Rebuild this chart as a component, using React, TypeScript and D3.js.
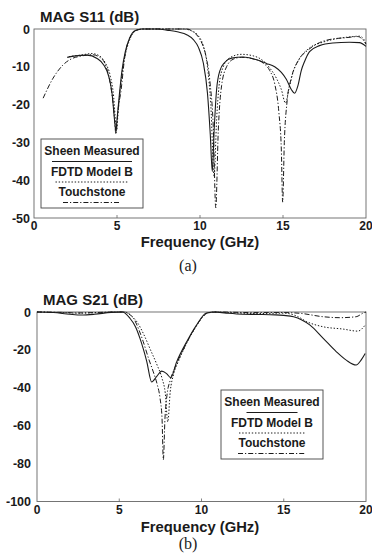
import React, { useEffect, useRef } from "react";
import * as d3 from "d3";

type Pt = [number, number];

const freqTicks = [0, 5, 10, 15, 20];
const s11Ticks = [0, -10, -20, -30, -40, -50];
const s21Ticks = [0, -20, -40, -60, -80, -100];
const legendLabels = ["Sheen Measured", "FDTD Model B", "Touchstone"];

// MAG S11 (dB) vs frequency (GHz)
const s11Measured: Pt[] = [
  [2.0, -7.5], [2.5, -7.1], [3.2, -6.9], [3.8, -7.8], [4.2, -9.5], [4.5, -12.5],
  [4.7, -17], [4.85, -24], [4.93, -27], [5.0, -24], [5.15, -17], [5.3, -11],
  [5.5, -6], [5.75, -2.5], [6.1, -0.4], [6.5, 0], [7.5, 0], [8.0, -0.3],
  [8.7, -0.8], [9.2, -1.5], [9.6, -2.8], [9.9, -4.8], [10.2, -9], [10.45, -17],
  [10.62, -28], [10.74, -37.7], [10.85, -27], [11.0, -16], [11.2, -11], [11.5, -8.8],
  [11.9, -7.7], [12.6, -7.4], [13.3, -8], [14.0, -9.1], [14.5, -10], [14.9, -11.5],
  [15.2, -13.3], [15.5, -16], [15.7, -17], [15.9, -15], [16.1, -11], [16.3, -8.6],
  [16.6, -6], [17.2, -4.4], [18.0, -3.7], [19.0, -3.5], [19.6, -3.6], [20.0, -4.6],
];
const s11Fdtd: Pt[] = [
  [2.1, -7.3], [2.8, -6.9], [3.5, -6.5], [3.9, -7], [4.3, -9], [4.6, -12.5],
  [4.8, -18], [4.92, -25], [4.97, -27], [5.05, -23], [5.2, -16], [5.4, -9],
  [5.6, -5], [5.85, -2], [6.2, -0.3], [6.6, 0], [9.0, 0], [9.5, -0.5],
  [9.9, -1.8], [10.2, -4.5], [10.45, -10], [10.65, -20], [10.85, -39], [11.0, -24],
  [11.15, -15], [11.4, -10], [11.8, -7.6], [12.5, -6.7], [13.2, -7.1], [13.8, -8.4],
  [14.2, -10.3], [14.6, -13], [14.9, -16], [15.15, -19.6], [15.35, -16], [15.6, -11.5],
  [16.0, -7.8], [16.6, -5], [17.4, -3.5], [18.2, -2.6], [19.0, -2.1], [19.6, -1.9],
  [19.85, -2.6], [20.0, -4],
];
const s11Touchstone: Pt[] = [
  [0.55, -18.3], [1.15, -13], [1.75, -9.5], [2.3, -7.8], [2.8, -7.2], [3.5, -6.8],
  [4.0, -7.6], [4.35, -10], [4.6, -14.5], [4.8, -21], [4.94, -27.8], [5.05, -22],
  [5.25, -16], [5.45, -8], [5.75, -2.6], [6.2, -0.3], [6.6, 0], [9.2, 0],
  [9.6, -0.8], [10.0, -2.8], [10.35, -7], [10.6, -14], [10.8, -26], [10.95, -47.3],
  [11.1, -27], [11.3, -15], [11.6, -10], [12.0, -8], [12.5, -7.5], [13.2, -7.9],
  [13.8, -9], [14.2, -11], [14.5, -14.5], [14.75, -22], [14.9, -32], [14.98, -45.8],
  [15.08, -30], [15.25, -19], [15.5, -13], [15.9, -8.5], [16.5, -5.6], [17.2, -3.6],
  [17.9, -2.7], [18.8, -2.3], [19.5, -2.0], [19.8, -2.8], [20.0, -4],
];

// MAG S21 (dB) vs frequency (GHz)
const s21Measured: Pt[] = [
  [0, 0], [1, -0.3], [2, -1.2], [2.7, -1.6], [3.5, -1.2], [4.5, -0.2],
  [5.2, 0], [5.65, -3.3], [6.0, -8], [6.26, -13.9], [6.67, -26], [6.97, -36.9],
  [7.28, -34], [7.58, -31.2], [7.88, -32.5], [8.13, -34.7], [8.49, -26.3], [9.1, -15.7],
  [9.7, -6.9], [10.3, -0.5], [10.8, 0], [11.5, -0.6], [12.5, -1.2], [13.5, -1.3],
  [14.5, -1.5], [15.0, -1.8], [15.6, -2.5], [16.1, -4.2], [16.6, -6.9], [17.4, -13.9],
  [18.2, -21], [18.8, -25.4], [19.4, -28], [19.7, -25.4], [19.95, -21.9],
];
const s21Fdtd: Pt[] = [
  [0, 0], [1.5, -0.3], [2.5, -0.6], [3.5, -0.4], [4.8, 0], [5.3, 0],
  [5.7, -1.8], [6.1, -5.5], [6.5, -12], [6.9, -20], [7.3, -28], [7.6, -35],
  [7.8, -43], [7.95, -58], [8.1, -42], [8.3, -33], [8.6, -26], [9.1, -16.5],
  [9.7, -7.2], [10.3, -0.8], [10.8, 0], [12, -0.5], [13.5, -0.8], [15, -0.6],
  [15.8, -2.2], [16.4, -5.1], [17.4, -7.8], [18.6, -9], [19.5, -10.1], [19.95, -6.9],
];
const s21Touchstone: Pt[] = [
  [0, 0], [1.5, -0.2], [2.5, -0.5], [3.5, -0.3], [4.8, 0], [5.3, 0],
  [5.86, -3.3], [6.2, -9.5], [6.46, -15.7], [6.8, -25], [7.07, -31.6], [7.3, -38],
  [7.48, -45.5], [7.6, -56], [7.68, -78], [7.78, -56], [7.9, -44], [8.1, -36],
  [8.4, -29], [8.8, -21.5], [9.3, -13], [9.9, -4.5], [10.4, -0.5], [11, 0],
  [13, -0.3], [15, -0.3], [16.0, -0.7], [17.4, -2.5], [18.4, -3], [19.4, -2.5],
  [19.8, -0.7], [20, 0],
];

const FONT = "'Liberation Sans', Arial, Helvetica, sans-serif";
const INK = "#1a1a1a";
const styles = [
  { dash: null, width: 1.1 },
  { dash: "1.4,1.8", width: 1 },
  { dash: "5,2,1.2,2", width: 1 },
];

type PanelOpts = {
  title: string;
  yTicks: number[];
  yMin: number;
  series: Pt[][];
  left: number;
  right: number;
  top: number;
  bottom: number;
  yLabelX: number;
  xLabelY: number;
  caption: string;
  captionY: number;
  legendX: number;
  legendY: number;
  legendLines: number[];
};

function drawPanel(svg: any, o: PanelOpts) {
  const g = svg.append("g");
  const x = d3.scaleLinear().domain([0, 20]).range([o.left, o.right]);
  const y = d3.scaleLinear().domain([o.yMin, 0]).range([o.bottom, o.top]);

  // frame
  g.append("rect")
    .attr("x", o.left)
    .attr("y", o.top)
    .attr("width", o.right - o.left)
    .attr("height", o.bottom - o.top)
    .attr("fill", "none")
    .attr("stroke", "#666")
    .attr("stroke-width", 0.9);

  // small inward ticks on the bottom edge
  g.selectAll(".xt")
    .data(freqTicks.slice(1, -1))
    .enter()
    .append("line")
    .attr("x1", (d) => x(d))
    .attr("x2", (d) => x(d))
    .attr("y1", o.bottom)
    .attr("y2", o.bottom - 3)
    .attr("stroke", "#666")
    .attr("stroke-width", 0.8);

  const line = d3
    .line<Pt>()
    .x((d) => x(d[0]))
    .y((d) => y(d[1]))
    .curve(d3.curveMonotoneX);

  o.series.forEach((s, i) => {
    g.append("path")
      .datum(s)
      .attr("fill", "none")
      .attr("stroke", INK)
      .attr("stroke-width", styles[i].width)
      .attr("stroke-dasharray", styles[i].dash)
      .attr("d", line);
  });

  // y tick labels
  g.selectAll(".yl")
    .data(o.yTicks)
    .enter()
    .append("text")
    .attr("x", o.yLabelX)
    .attr("y", (d) => y(d))
    .attr("dy", "0.36em")
    .attr("text-anchor", "end")
    .style("font", `bold 12.5px ${FONT}`)
    .attr("fill", INK)
    .text((d) => d);

  // x tick labels
  g.selectAll(".xl")
    .data(freqTicks)
    .enter()
    .append("text")
    .attr("x", (d) => x(d))
    .attr("y", o.bottom + 8)
    .attr("dy", "0.36em")
    .attr("text-anchor", "middle")
    .style("font", `bold 12px ${FONT}`)
    .attr("fill", INK)
    .text((d) => d);

  g.append("text")
    .attr("x", o.left + 6)
    .attr("y", o.top - 7)
    .style("font", `bold 15px ${FONT}`)
    .attr("fill", INK)
    .text(o.title);

  g.append("text")
    .attr("x", 200)
    .attr("y", o.xLabelY)
    .attr("text-anchor", "middle")
    .style("font", `bold 14.8px ${FONT}`)
    .attr("fill", INK)
    .text("Frequency (GHz)");

  g.append("text")
    .attr("x", 188)
    .attr("y", o.captionY)
    .attr("text-anchor", "middle")
    .style("font", "16px 'Liberation Serif', 'Times New Roman', serif")
    .attr("fill", INK)
    .text(o.caption);

  // legend
  const lg = g.append("g").attr("transform", `translate(${o.legendX},${o.legendY})`);
  const bw = 102;
  lg.append("rect")
    .attr("width", bw)
    .attr("height", 69)
    .attr("fill", "white")
    .attr("stroke", "#444")
    .attr("stroke-width", 0.9);
  legendLabels.forEach((label, i) => {
    const ty = 12 + i * 20.5;
    lg.append("text")
      .attr("x", bw / 2)
      .attr("y", ty)
      .attr("dy", "0.36em")
      .attr("text-anchor", "middle")
      .style("font", `bold 12px ${FONT}`)
      .attr("fill", INK)
      .text(label);
    const lw = o.legendLines[i];
    lg.append("line")
      .attr("x1", bw / 2 - lw / 2)
      .attr("x2", bw / 2 + lw / 2)
      .attr("y1", ty + 10.5)
      .attr("y2", ty + 10.5)
      .attr("stroke", INK)
      .attr("stroke-width", styles[i].width)
      .attr("stroke-dasharray", styles[i].dash);
  });
}

export default function App() {
  const svgRef = useRef<SVGSVGElement>(null);

  useEffect(() => {
    if (!svgRef.current) return;
    const svg = d3.select(svgRef.current);
    svg.selectAll("*").remove();

    drawPanel(svg, {
      title: "MAG S11 (dB)",
      yTicks: s11Ticks,
      yMin: -50,
      series: [s11Measured, s11Fdtd, s11Touchstone],
      left: 34,
      right: 366,
      top: 29,
      bottom: 218,
      yLabelX: 30,
      xLabelY: 246.5,
      caption: "(a)",
      captionY: 271,
      legendX: 41,
      legendY: 139,
      legendLines: [80, 73, 58],
    });

    drawPanel(svg, {
      title: "MAG S21 (dB)",
      yTicks: s21Ticks,
      yMin: -100,
      series: [s21Measured, s21Fdtd, s21Touchstone],
      left: 37,
      right: 366,
      top: 312,
      bottom: 501.5,
      yLabelX: 31,
      xLabelY: 531.5,
      caption: "(b)",
      captionY: 549,
      legendX: 221,
      legendY: 390,
      legendLines: [51, 66, 68],
    });
  }, []);

  return (
    <svg
      ref={svgRef}
      width={372}
      height={554}
      style={{ position: "absolute", left: 0, top: 0, background: "white" }}
    />
  );
}
